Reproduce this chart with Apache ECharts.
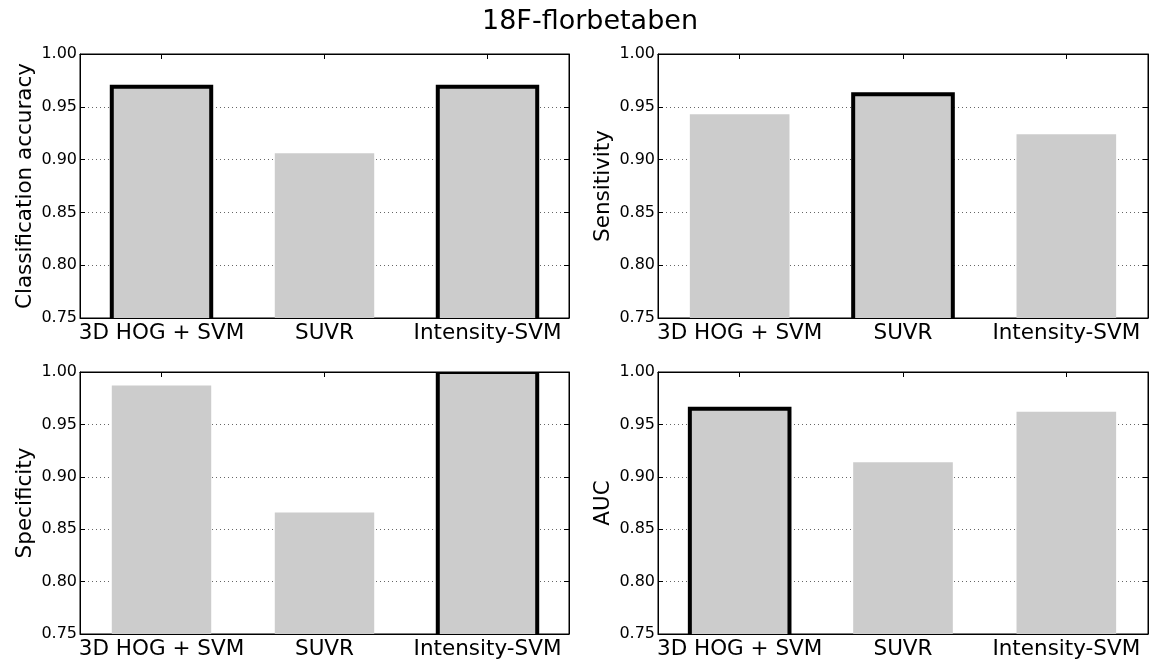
<!DOCTYPE html>
<html>
<head>
<meta charset="utf-8">
<script src="https://cdn.jsdelivr.net/npm/echarts@6/dist/echarts.min.js"></script>
<style>
  html, body { margin: 0; padding: 0; background: #fff; }
  #chart { width: 1153px; height: 667px; }
</style>
</head>
<body>
<div id="chart"></div>
<script>
const methods = ['3D HOG + SVM', 'SUVR', 'Intensity-SVM']
const accuracy = [0.969, 0.906, 0.969]
const sensitivity = [0.943, 0.962, 0.924]
const specificity = [0.987, 0.866, 1.0]
const auc = [0.965, 0.914, 0.962]
const panelNames = ['Classification accuracy', 'Sensitivity', 'Specificity', 'AUC']
const yMin = 0.75
const yMax = 1.0
const yStep = 0.05

const FONT = 'DejaVu Sans'
const panels = [accuracy, sensitivity, specificity, auc]
const grids = [
  { left: 80, top: 54, width: 489, height: 264 },
  { left: 658, top: 54, width: 490, height: 264 },
  { left: 80, top: 372, width: 489, height: 262 },
  { left: 658, top: 372, width: 490, height: 262 },
]

const xAxis = []
const yAxis = []
const series = []
const tick = { show: true, inside: true, length: 5, lineStyle: { color: '#000', width: 1 } }
const line = { show: true, onZero: false, lineStyle: { color: '#000', width: 1 } }

// bars run on below the axis so the clip hides the bottom edge, like matplotlib
function renderBar(params, api) {
  const cat = api.value(0)
  const top = api.coord([cat, api.value(1)])
  const base = api.coord([cat, yMin])
  const w = api.size([1, 0])[0] * 0.61
  const best = api.value(2) === 1
  return {
    type: 'rect',
    shape: { x: top[0] - w / 2, y: top[1], width: w, height: base[1] - top[1] + 12 },
    style: { fill: '#cccccc', stroke: best ? '#000' : null, lineWidth: best ? 4 : 0 },
  }
}

panels.forEach((values, i) => {
  const best = Math.max(...values)
  xAxis.push({
    type: 'category', gridIndex: i, data: methods, position: 'bottom',
    axisLine: line, axisTick: { ...tick, alignWithLabel: true },
    axisLabel: { color: '#000', fontFamily: FONT, fontSize: 21.5, margin: 4, interval: 0 },
  })
  xAxis.push({
    type: 'category', gridIndex: i, data: methods, position: 'top',
    axisLine: line, axisTick: { ...tick, alignWithLabel: true }, axisLabel: { show: false },
  })
  yAxis.push({
    type: 'value', gridIndex: i, min: yMin, max: yMax, interval: yStep, position: 'left',
    name: panelNames[i], nameLocation: 'middle', nameGap: 44,
    nameTextStyle: { color: '#000', fontFamily: FONT, fontSize: 21.5 },
    axisLine: line, axisTick: tick,
    axisLabel: { color: '#000', fontFamily: FONT, fontSize: 16, margin: 3, formatter: v => v.toFixed(2) },
    splitLine: { show: true, lineStyle: { color: '#666', width: 1, type: [1, 3] } },
  })
  yAxis.push({
    type: 'value', gridIndex: i, min: yMin, max: yMax, interval: yStep, position: 'right',
    axisLine: line, axisTick: tick, axisLabel: { show: false }, splitLine: { show: false },
  })
  series.push({
    type: 'custom', xAxisIndex: 2 * i, yAxisIndex: 2 * i, clip: true, z: 1,
    renderItem: renderBar,
    encode: { x: 0, y: 1 },
    data: values.map((v, k) => [k, v, v === best ? 1 : 0]),
  })
})

const chart = echarts.init(document.getElementById('chart'))
chart.setOption({
  animation: false,
  backgroundColor: '#fff',
  title: {
    text: '18F-florbetaben', left: 477, top: 3,
    textStyle: { color: '#000', fontFamily: FONT, fontSize: 27, fontWeight: 'normal' },
  },
  grid: grids.map(g => ({ ...g, show: true, borderColor: '#000', borderWidth: 1, backgroundColor: '#fff' })),
  xAxis,
  yAxis,
  series,
})
</script>
</body>
</html>
